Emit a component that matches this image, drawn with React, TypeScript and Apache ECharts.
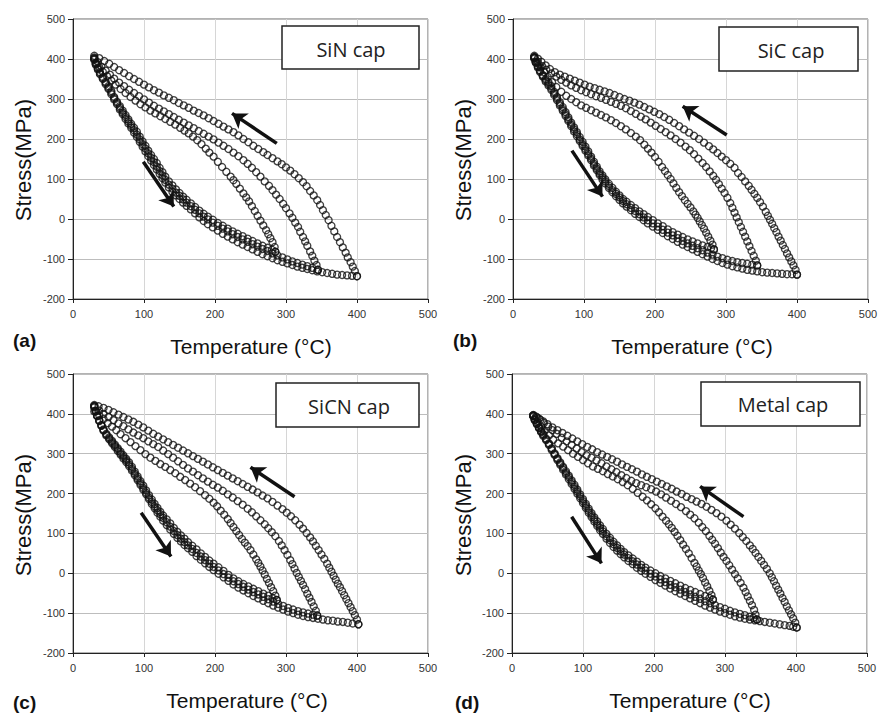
import React, { useEffect, useRef } from 'react';
import * as echarts from 'echarts';

type P = [number, number];

const X_MIN = 0, X_MAX = 500, X_STEP = 100;
const Y_MIN = -200, Y_MAX = 500, Y_STEP = 100;
const PANEL_LABELS = ['(a)', '(b)', '(c)', '(d)'];
const CAP_NAMES = ['SiN cap', 'SiC cap', 'SiCN cap', 'Metal cap'];
const X_TITLE = 'Temperature (°C)';
const Y_TITLE = 'Stress(MPa)';

// ---------- (a) SiN cap ----------
const aHeat1: P[] = [[30,402],[32,390],[35,378],[38,367],[42,355],[46,343],[50,332],[54,320],[58,305],[62,293],[66,282],[70,271],[74,260],[78,249],[82,238],[86,228],[90,218],[94,206],[98,194],[102,183],[106,171],[110,160],[114,150],[118,140],[122,128],[126,117],[130,106],[135,94],[140,84],[145,74],[150,65],[155,56],[160,48],[166,39],[172,30],[178,21],[184,13],[190,6],[197,-2],[204,-10],[211,-17],[218,-24],[225,-31],[232,-37],[239,-43],[246,-49],[253,-55],[260,-61],[267,-67],[274,-72],[280,-77],[285,-82]];
const aHeat2: P[] = [[30,400],[32,388],[35,376],[38,364],[42,352],[46,340],[50,328],[54,316],[58,302],[62,290],[66,278],[70,266],[74,255],[78,244],[82,233],[86,222],[90,211],[94,199],[98,187],[102,176],[106,164],[110,153],[114,142],[118,131],[122,120],[126,109],[130,98],[135,86],[140,76],[145,66],[150,58],[155,49],[160,41],[166,32],[172,23],[178,14],[184,6],[190,-1],[197,-9],[204,-17],[211,-24],[218,-31],[225,-38],[232,-45],[239,-51],[246,-57],[253,-63],[260,-69],[267,-75],[274,-80],[281,-86],[288,-91],[295,-96],[302,-101],[309,-106],[316,-110],[323,-114],[330,-118],[337,-122],[345,-127]];
const aHeat3: P[] = [[30,398],[32,386],[35,374],[38,362],[42,350],[46,337],[50,325],[54,312],[58,299],[62,287],[66,274],[70,262],[74,250],[78,239],[82,228],[86,216],[90,205],[94,193],[98,181],[102,169],[106,157],[110,146],[114,135],[118,124],[122,113],[126,102],[130,91],[135,79],[140,68],[145,59],[150,50],[155,41],[160,33],[166,24],[172,14],[178,4],[184,-5],[190,-13],[197,-21],[204,-29],[211,-37],[218,-44],[225,-51],[232,-58],[239,-64],[246,-70],[253,-76],[260,-82],[267,-88],[274,-93],[281,-98],[288,-103],[295,-107],[302,-111],[309,-115],[316,-119],[323,-122],[330,-125],[337,-128],[344,-131],[351,-133],[358,-135],[365,-137],[372,-139],[379,-140],[386,-141],[393,-142],[400,-143]];
const aCool1: P[] = [[285,-82],[284,-70],[281,-58],[278,-48],[275,-38],[272,-28],[268,-16],[264,-4],[260,8],[256,20],[252,32],[248,44],[244,54],[240,64],[235,76],[230,88],[226,97],[222,106],[216,118],[210,130],[204,143],[198,156],[192,166],[187,176],[181,187],[175,197],[169,206],[163,214],[157,221],[151,228],[144,236],[137,243],[130,250],[123,257],[116,264],[109,271],[102,279],[95,287],[88,296],[81,305],[74,315],[67,325],[60,336],[54,346],[48,357],[42,368],[37,379],[33,390],[30,400]];
const aCool2: P[] = [[345,-127],[343,-115],[340,-104],[337,-92],[334,-81],[330,-67],[327,-56],[324,-45],[320,-32],[317,-20],[313,-9],[309,3],[305,14],[300,27],[296,38],[291,50],[286,61],[281,72],[276,83],[270,94],[264,106],[258,117],[252,128],[246,138],[240,147],[233,157],[226,166],[219,175],[212,183],[205,191],[198,199],[191,206],[184,213],[177,220],[170,227],[163,234],[156,241],[149,248],[142,255],[135,262],[128,269],[121,276],[114,283],[107,291],[100,299],[93,307],[86,315],[79,323],[72,332],[65,341],[58,351],[52,361],[46,371],[40,381],[35,392],[30,404]];
const aCool3: P[] = [[400,-143],[397,-130],[394,-119],[391,-108],[387,-96],[384,-84],[380,-71],[376,-58],[372,-45],[368,-31],[364,-17],[360,-3],[356,10],[352,22],[348,35],[344,47],[339,59],[334,70],[329,82],[324,92],[318,102],[312,112],[306,121],[300,129],[294,137],[288,144],[281,152],[274,160],[268,167],[261,175],[254,183],[247,192],[240,200],[233,209],[226,217],[219,224],[212,231],[205,238],[198,245],[191,252],[184,259],[177,265],[170,271],[163,278],[156,284],[149,290],[142,297],[135,303],[128,309],[121,316],[114,322],[107,329],[100,336],[93,343],[86,350],[79,357],[72,365],[65,372],[58,380],[51,388],[44,395],[37,402],[30,408]];
const aArrows: [P, P][] = [[[287,189],[224,264]], [[99,143],[142,31]]];

// ---------- (b) SiC cap ----------
const bHeat1: P[] = [[30,405],[32,394],[35,383],[38,372],[42,360],[46,350],[50,342],[54,332],[58,318],[62,305],[66,292],[70,280],[74,267],[78,254],[82,241],[86,229],[90,217],[94,205],[98,193],[102,181],[106,169],[110,156],[114,143],[118,131],[122,119],[126,109],[130,99],[135,88],[140,78],[145,68],[150,59],[155,50],[160,43],[166,35],[172,27],[178,19],[184,12],[190,5],[197,-3],[204,-11],[211,-18],[218,-26],[225,-33],[232,-39],[239,-45],[246,-51],[253,-56],[260,-61],[267,-66],[274,-70],[279,-73],[283,-76]];
const bHeat2: P[] = [[30,404],[32,392],[35,381],[38,370],[42,358],[46,347],[50,338],[54,327],[58,314],[62,301],[66,288],[70,275],[74,262],[78,249],[82,236],[86,224],[90,212],[94,199],[98,187],[102,175],[106,163],[110,151],[114,138],[118,126],[122,114],[126,104],[130,94],[135,83],[140,72],[145,63],[150,54],[155,45],[160,37],[166,28],[172,20],[178,12],[184,4],[190,-3],[197,-11],[204,-19],[211,-27],[218,-34],[225,-41],[232,-48],[239,-55],[246,-61],[253,-67],[260,-73],[267,-78],[274,-84],[281,-89],[288,-94],[295,-98],[302,-102],[309,-105],[316,-108],[323,-110],[330,-112],[337,-114],[344,-116]];
const bHeat3: P[] = [[30,403],[32,391],[35,379],[38,368],[42,356],[46,344],[50,334],[54,323],[58,310],[62,297],[66,284],[70,271],[74,258],[78,245],[82,232],[86,219],[90,207],[94,195],[98,183],[102,171],[106,159],[110,147],[114,134],[118,122],[122,110],[126,99],[130,89],[135,78],[140,67],[145,57],[150,48],[155,39],[160,31],[166,22],[172,13],[178,5],[184,-3],[190,-11],[197,-19],[204,-27],[211,-35],[218,-43],[225,-50],[232,-57],[239,-64],[246,-70],[253,-76],[260,-82],[267,-88],[274,-94],[281,-100],[288,-105],[295,-110],[302,-114],[309,-118],[316,-121],[323,-124],[330,-127],[337,-129],[344,-131],[351,-133],[358,-134],[365,-135],[372,-136],[379,-137],[386,-138],[393,-138],[400,-139]];
const bCool1: P[] = [[283,-76],[281,-64],[278,-54],[275,-44],[272,-34],[269,-24],[266,-15],[263,-6],[260,3],[257,11],[254,19],[250,29],[246,38],[242,47],[238,57],[234,67],[230,78],[226,89],[222,100],[218,110],[214,120],[210,130],[205,143],[200,155],[195,166],[190,176],[185,186],[179,197],[173,206],[166,215],[159,224],[152,232],[145,240],[138,247],[131,254],[124,260],[117,266],[110,272],[103,278],[96,284],[89,292],[82,300],[75,308],[68,318],[61,330],[55,342],[49,355],[44,367],[39,379],[34,390],[30,401]];
const bCool2: P[] = [[344,-116],[342,-104],[339,-92],[336,-80],[333,-68],[330,-56],[327,-44],[324,-32],[321,-20],[318,-8],[315,4],[312,16],[309,28],[306,40],[302,53],[298,65],[294,76],[290,87],[286,98],[282,108],[277,119],[272,130],[267,140],[261,151],[255,162],[249,172],[243,181],[236,191],[229,200],[222,209],[215,217],[208,225],[201,233],[194,241],[187,249],[180,256],[173,263],[166,270],[159,277],[152,283],[145,288],[138,293],[131,298],[124,303],[117,307],[110,312],[103,317],[96,322],[89,328],[82,334],[75,341],[68,348],[61,356],[54,364],[47,373],[41,382],[35,393],[30,404]];
const bCool3: P[] = [[400,-139],[398,-127],[395,-116],[392,-106],[389,-96],[386,-86],[383,-75],[380,-65],[377,-54],[374,-44],[371,-33],[368,-23],[365,-12],[362,-2],[359,8],[356,18],[352,31],[348,42],[344,53],[340,63],[336,73],[332,83],[327,94],[322,105],[317,115],[312,128],[306,138],[300,147],[294,156],[288,165],[282,174],[276,182],[269,191],[262,200],[255,208],[248,216],[241,224],[234,232],[227,240],[220,248],[213,255],[206,262],[199,268],[192,274],[185,280],[178,286],[171,291],[164,296],[157,300],[150,305],[143,310],[136,315],[129,319],[122,323],[115,327],[108,331],[101,336],[94,341],[87,346],[80,351],[73,356],[66,361],[59,367],[52,375],[46,384],[40,393],[35,401],[30,408]];
const bArrows: [P, P][] = [[[301,210],[239,282]], [[83,171],[126,56]]];

// ---------- (c) SiCN cap ----------
const cHeat1: P[] = [[30,420],[32,408],[34,396],[37,384],[40,372],[43,361],[47,350],[51,341],[55,332],[59,323],[63,314],[67,305],[71,296],[75,287],[79,278],[83,267],[87,255],[91,243],[95,231],[99,220],[103,208],[107,196],[111,185],[115,174],[119,164],[123,154],[127,145],[132,135],[137,125],[142,114],[147,104],[152,95],[157,87],[162,78],[168,69],[174,60],[180,50],[186,41],[192,32],[198,24],[205,15],[212,6],[219,-4],[226,-13],[233,-20],[240,-27],[247,-33],[254,-39],[261,-45],[268,-51],[275,-56],[281,-62],[287,-67]];
const cHeat2: P[] = [[30,419],[32,407],[34,395],[37,383],[40,371],[43,359],[47,348],[51,338],[55,329],[59,320],[63,311],[67,301],[71,292],[75,283],[79,273],[83,262],[87,250],[91,238],[95,226],[99,214],[103,202],[107,190],[111,179],[115,168],[119,158],[123,148],[127,139],[132,128],[137,117],[142,106],[147,96],[152,87],[157,78],[162,70],[168,61],[174,51],[180,42],[186,33],[192,24],[198,16],[205,7],[212,-2],[219,-11],[226,-20],[233,-27],[240,-34],[247,-41],[254,-47],[261,-53],[268,-59],[275,-65],[282,-71],[289,-77],[296,-82],[303,-87],[310,-91],[317,-95],[324,-98],[331,-101],[338,-104],[344,-106]];
const cHeat3: P[] = [[30,418],[32,406],[34,394],[37,382],[40,370],[43,358],[47,346],[51,336],[55,326],[59,317],[63,307],[67,298],[71,288],[75,279],[79,269],[83,258],[87,246],[91,234],[95,222],[99,210],[103,198],[107,186],[111,174],[115,163],[119,152],[123,142],[127,132],[132,121],[137,110],[142,99],[147,89],[152,80],[157,71],[162,63],[168,54],[174,43],[180,34],[186,25],[192,16],[198,8],[205,-1],[212,-10],[219,-19],[226,-28],[233,-36],[240,-43],[247,-50],[254,-57],[261,-63],[268,-69],[275,-75],[282,-81],[289,-86],[296,-91],[303,-96],[310,-100],[317,-104],[324,-107],[331,-110],[338,-112],[345,-114],[352,-116],[359,-118],[366,-119],[373,-121],[380,-122],[387,-124],[394,-126],[402,-128]];
const cCool1: P[] = [[287,-67],[285,-56],[282,-45],[279,-35],[276,-24],[273,-14],[270,-3],[267,7],[264,17],[261,26],[258,35],[254,47],[250,58],[246,68],[242,77],[238,86],[234,96],[230,106],[226,116],[222,126],[218,136],[213,147],[208,157],[203,168],[198,177],[192,187],[186,196],[179,206],[172,216],[165,225],[158,234],[151,242],[144,251],[137,259],[130,267],[123,274],[116,282],[109,290],[102,299],[95,309],[88,319],[81,329],[74,339],[67,349],[61,359],[55,368],[49,377],[43,387],[37,396],[30,406]];
const cCool2: P[] = [[344,-106],[342,-94],[339,-83],[336,-72],[333,-61],[330,-51],[327,-40],[324,-29],[321,-19],[318,-9],[315,1],[312,12],[309,23],[306,33],[302,46],[298,58],[294,70],[290,81],[285,93],[280,103],[275,113],[270,123],[264,133],[258,143],[252,153],[246,162],[239,172],[232,181],[225,190],[218,198],[211,207],[204,215],[197,222],[190,230],[183,238],[176,246],[169,255],[162,263],[155,272],[148,281],[141,290],[134,299],[127,308],[120,317],[113,324],[106,331],[99,339],[92,346],[85,353],[78,361],[71,369],[64,376],[57,384],[50,392],[43,400],[37,408],[30,416]];
const cCool3: P[] = [[402,-128],[400,-116],[397,-105],[394,-95],[391,-85],[388,-75],[385,-65],[382,-55],[379,-45],[376,-35],[373,-26],[370,-16],[367,-6],[364,4],[361,14],[358,24],[354,36],[350,47],[346,58],[342,69],[338,80],[334,90],[329,101],[324,112],[319,122],[313,133],[307,143],[301,152],[295,161],[288,170],[281,179],[274,188],[267,195],[260,203],[253,210],[246,217],[239,224],[232,231],[225,238],[218,245],[211,252],[204,259],[197,266],[190,273],[183,280],[176,287],[169,294],[162,301],[155,308],[148,315],[141,322],[134,329],[127,336],[120,343],[113,350],[106,358],[99,366],[92,373],[85,380],[78,386],[71,392],[64,398],[57,404],[50,410],[43,415],[36,419],[30,422]];
const cArrows: [P, P][] = [[[312,192],[250,266]], [[96,152],[138,42]]];

// ---------- (d) Metal cap ----------
const dHeat1: P[] = [[30,396],[32,386],[35,376],[38,366],[41,357],[44,349],[48,338],[52,326],[56,314],[60,301],[64,289],[68,278],[72,267],[76,256],[80,245],[84,233],[88,222],[92,210],[96,198],[100,186],[104,174],[108,162],[112,151],[116,140],[120,130],[124,120],[128,111],[133,99],[138,89],[143,79],[148,70],[153,61],[158,53],[164,45],[170,37],[176,29],[182,21],[188,14],[195,7],[202,0],[209,-7],[216,-13],[223,-19],[230,-25],[237,-31],[244,-37],[251,-42],[258,-47],[265,-52],[272,-57],[278,-62],[283,-66]];
const dHeat2: P[] = [[30,395],[32,385],[35,375],[38,365],[41,356],[44,347],[48,336],[52,324],[56,312],[60,299],[64,287],[68,275],[72,264],[76,252],[80,241],[84,229],[88,217],[92,205],[96,193],[100,181],[104,169],[108,157],[112,146],[116,135],[120,124],[124,114],[128,105],[133,93],[138,83],[143,73],[148,64],[153,55],[158,47],[164,38],[170,30],[176,22],[182,14],[188,7],[195,-1],[202,-8],[209,-15],[216,-22],[223,-29],[230,-35],[237,-41],[244,-47],[251,-53],[258,-59],[265,-64],[272,-70],[279,-75],[286,-80],[293,-85],[300,-89],[307,-94],[314,-98],[321,-102],[328,-105],[335,-109],[340,-112],[345,-116]];
const dHeat3: P[] = [[30,394],[32,384],[35,374],[38,364],[41,354],[44,345],[48,334],[52,322],[56,309],[60,297],[64,284],[68,272],[72,260],[76,248],[80,236],[84,224],[88,212],[92,200],[96,188],[100,176],[104,164],[108,152],[112,141],[116,130],[120,119],[124,108],[128,99],[133,87],[138,76],[143,66],[148,57],[153,48],[158,40],[164,31],[170,23],[176,14],[182,6],[188,-1],[195,-9],[202,-17],[209,-24],[216,-31],[223,-38],[230,-45],[237,-51],[244,-57],[251,-63],[258,-69],[265,-75],[272,-81],[279,-86],[286,-91],[293,-96],[300,-100],[307,-104],[314,-108],[321,-111],[328,-114],[335,-116],[342,-118],[349,-120],[356,-122],[363,-124],[370,-126],[377,-128],[384,-130],[391,-132],[396,-134],[401,-136]];
const dCool1: P[] = [[283,-66],[281,-55],[278,-44],[275,-33],[272,-23],[269,-12],[266,-2],[263,7],[260,17],[257,26],[253,38],[249,50],[245,61],[241,72],[237,83],[233,94],[229,104],[225,114],[221,123],[217,132],[212,142],[207,153],[202,163],[196,173],[190,183],[184,192],[177,202],[170,212],[163,221],[156,229],[149,236],[142,243],[135,249],[128,256],[121,262],[114,268],[107,276],[100,284],[93,292],[86,300],[79,309],[72,318],[65,326],[58,335],[52,346],[46,357],[41,368],[36,379],[32,388],[30,394]];
const dCool2: P[] = [[345,-116],[343,-104],[341,-92],[338,-80],[335,-69],[332,-58],[329,-47],[326,-36],[322,-24],[318,-13],[314,-2],[310,9],[306,20],[302,31],[298,41],[294,52],[290,63],[286,74],[282,84],[278,94],[273,106],[268,116],[263,127],[257,138],[251,147],[245,156],[238,166],[231,174],[224,182],[217,190],[210,198],[203,205],[196,211],[189,216],[182,221],[175,226],[168,232],[161,239],[154,246],[147,254],[140,261],[133,268],[126,276],[119,283],[112,290],[105,296],[98,304],[91,313],[84,322],[77,331],[70,340],[63,350],[57,359],[51,368],[45,377],[40,385],[35,391],[30,396]];
const dCool3: P[] = [[401,-136],[399,-124],[396,-113],[393,-103],[390,-93],[387,-83],[384,-72],[381,-62],[378,-51],[375,-41],[372,-31],[369,-20],[366,-10],[363,0],[359,11],[355,21],[351,31],[347,41],[343,51],[339,61],[335,70],[330,81],[325,91],[320,101],[314,112],[308,122],[302,132],[295,142],[288,151],[281,159],[274,167],[267,174],[260,180],[253,186],[246,192],[239,199],[232,205],[225,212],[218,218],[211,224],[204,230],[197,236],[190,242],[183,248],[176,255],[169,261],[162,267],[155,273],[148,280],[141,286],[134,292],[127,298],[120,304],[113,311],[106,317],[99,324],[92,331],[85,338],[78,345],[71,352],[64,359],[57,366],[50,374],[44,381],[38,388],[34,393],[30,397]];
const dArrows: [P, P][] = [[[326,142],[265,218]], [[84,142],[126,25]]];

const PANEL_CURVES: P[][][] = [
  [aHeat1, aHeat2, aHeat3, aCool1, aCool2, aCool3],
  [bHeat1, bHeat2, bHeat3, bCool1, bCool2, bCool3],
  [cHeat1, cHeat2, cHeat3, cCool1, cCool2, cCool3],
  [dHeat1, dHeat2, dHeat3, dCool1, dCool2, dCool3],
];
const PANEL_ARROWS = [aArrows, bArrows, cArrows, dArrows];

// layout (pixels)
const GRIDS = [
  { left: 73, top: 19, width: 355, height: 280 },
  { left: 513, top: 19, width: 355, height: 280 },
  { left: 73, top: 374, width: 355, height: 279 },
  { left: 512, top: 374, width: 355, height: 279 },
];
const CAP_BOX = [
  { x: 282, y: 26, w: 137, h: 43, tx: 351, ty: 49 },
  { x: 719, y: 27, w: 139, h: 44, tx: 791, ty: 50 },
  { x: 276, y: 383, w: 143, h: 44, tx: 349, ty: 406 },
  { x: 701, y: 382, w: 159, h: 44, tx: 783, ty: 404 },
];
const X_TITLE_POS = [[251, 346], [692, 346], [247, 700], [690, 700]];
const Y_TITLE_POS = [[23, 160], [463, 160], [23, 515], [463, 515]];
const PANEL_LABEL_POS = [[13, 340], [453, 340], [13, 702], [455, 702]];

const FONT = '"Liberation Sans", Arial, sans-serif';

function buildOption() {
  const series: any[] = [];
  PANEL_CURVES.forEach((curves, i) => {
    curves.forEach((data, k) => {
      const s: any = {
        type: 'scatter',
        xAxisIndex: i,
        yAxisIndex: i,
        data,
        symbol: 'circle',
        symbolSize: 7,
        silent: true,
        itemStyle: { color: 'rgba(255,255,255,0)', borderColor: '#111', borderWidth: 1.35 },
        z: 3,
      };
      if (k === 0) {
        s.markLine = {
          silent: true,
          animation: false,
          symbol: ['none', 'arrow'],
          symbolSize: 14,
          symbolOffset: 0,
          label: { show: false },
          emphasis: { disabled: true },
          lineStyle: { color: '#111', width: 3.5, type: 'solid', opacity: 1 },
          itemStyle: { color: '#111' },
          data: PANEL_ARROWS[i].map(([a, b]) => [
            { coord: a, symbol: 'none' },
            { coord: b, symbol: 'arrow', symbolSize: 14 },
          ]),
        };
      }
      series.push(s);
    });
  });

  const graphic: any[] = [];
  GRIDS.forEach((_, i) => {
    const b = CAP_BOX[i];
    graphic.push({
      type: 'rect', z: 100,
      shape: { x: b.x, y: b.y, width: b.w, height: b.h },
      style: { fill: '#fff', stroke: '#222', lineWidth: 1.5 },
    });
    graphic.push({
      type: 'text', z: 101, x: b.tx, y: b.ty,
      style: { text: CAP_NAMES[i], fontSize: 20, fontFamily: '"Open Sans", "Noto Sans", sans-serif', fill: '#222',
        align: 'center', verticalAlign: 'middle', textAlign: 'center', textVerticalAlign: 'middle' },
    });
    graphic.push({
      type: 'text', z: 101, x: X_TITLE_POS[i][0], y: X_TITLE_POS[i][1],
      style: { text: X_TITLE, fontSize: 21, fontFamily: FONT, fill: '#111',
        align: 'center', verticalAlign: 'middle', textAlign: 'center', textVerticalAlign: 'middle' },
    });
    graphic.push({
      type: 'text', z: 101, x: Y_TITLE_POS[i][0], y: Y_TITLE_POS[i][1], rotation: Math.PI / 2,
      style: { text: Y_TITLE, fontSize: 22, fontFamily: FONT, fill: '#111',
        align: 'center', verticalAlign: 'middle', textAlign: 'center', textVerticalAlign: 'middle' },
    });
    graphic.push({
      type: 'text', z: 101, x: PANEL_LABEL_POS[i][0], y: PANEL_LABEL_POS[i][1],
      style: { text: PANEL_LABELS[i], fontSize: 19, fontWeight: 'bold', fontFamily: FONT, fill: '#111',
        align: 'left', verticalAlign: 'middle', textAlign: 'left', textVerticalAlign: 'middle' },
    });
  });

  return {
    animation: false,
    backgroundColor: '#ffffff',
    textStyle: { fontFamily: FONT },
    grid: GRIDS.map((g) => ({
      ...g, show: true, borderColor: '#666', borderWidth: 1, backgroundColor: 'rgba(0,0,0,0)',
      containLabel: false, outerBoundsMode: 'none',
    })),
    xAxis: GRIDS.map((_, i) => ({
      type: 'value', gridIndex: i, min: X_MIN, max: X_MAX, interval: X_STEP,
      axisLine: { show: true, onZero: false, lineStyle: { color: '#222', width: 1 } },
      axisTick: { show: true, inside: false, length: 4, lineStyle: { color: '#222' } },
      axisLabel: { show: true, fontSize: 11, color: '#333', margin: 9, fontFamily: FONT },
      splitLine: { show: true, lineStyle: { color: '#d6d6d6', width: 1 } },
    })),
    yAxis: GRIDS.map((_, i) => ({
      type: 'value', gridIndex: i, min: Y_MIN, max: Y_MAX, interval: Y_STEP,
      axisLine: { show: true, onZero: false, lineStyle: { color: '#222', width: 1 } },
      axisTick: { show: true, inside: false, length: 5, lineStyle: { color: '#222' } },
      axisLabel: { show: true, fontSize: 11, color: '#333', margin: 8, fontFamily: FONT },
      splitLine: { show: true, lineStyle: { color: '#bdbdbd', width: 1 } },
    })),
    series,
    graphic,
  };
}

export default function App() {
  const ref = useRef<HTMLDivElement>(null);
  useEffect(() => {
    if (!ref.current) return;
    const chart = echarts.init(ref.current, null, { renderer: 'svg' });
    chart.setOption(buildOption());
    return () => chart.dispose();
  }, []);
  return (
    <div
      ref={ref}
      style={{ position: 'fixed', left: 0, top: 0, width: 880, height: 713, background: '#fff' }}
    />
  );
}
